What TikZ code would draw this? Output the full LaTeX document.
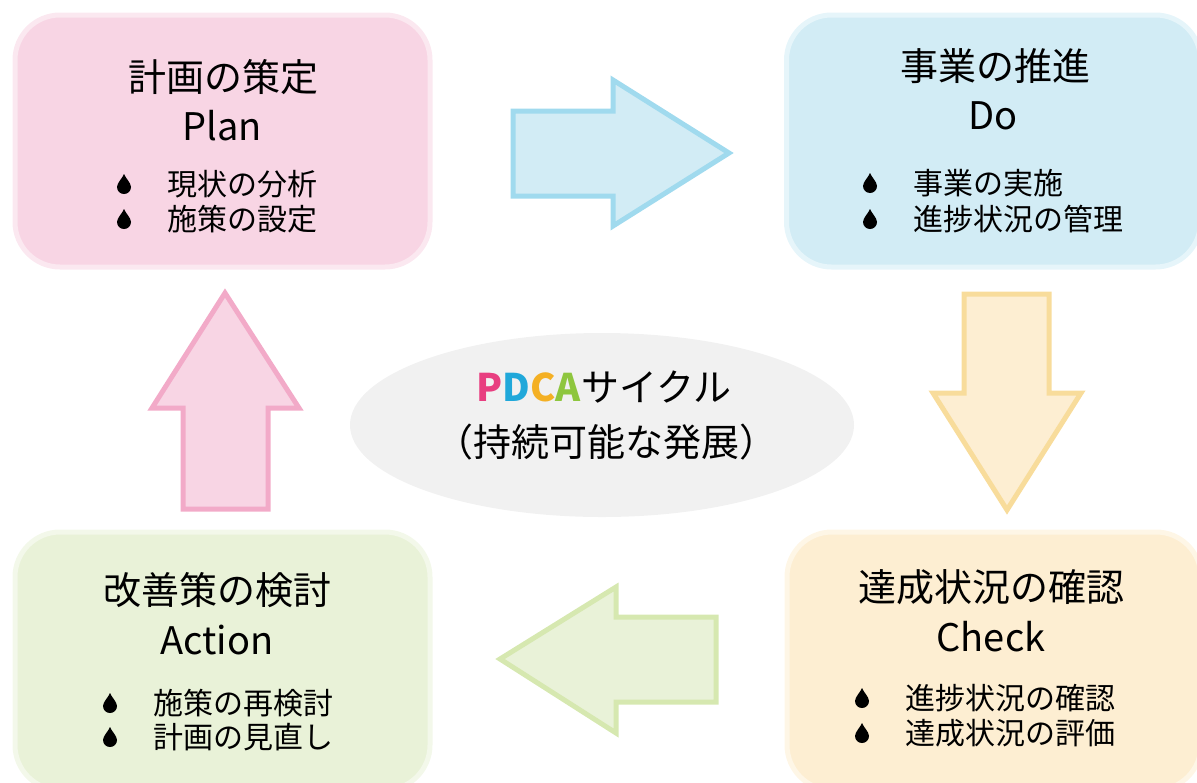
\documentclass[tikz,border=0pt]{standalone}
\usepackage{fontspec}
\setmainfont{Noto Sans CJK JP}
\usetikzlibrary{positioning,shapes.geometric}
\definecolor{PdcaPink}{RGB}{248,213,228}
\definecolor{PdcaPinkLine}{RGB}{242,170,200}
\definecolor{PdcaBlue}{RGB}{210,236,245}
\definecolor{PdcaBlueLine}{RGB}{160,218,238}
\definecolor{PdcaYellow}{RGB}{253,238,210}
\definecolor{PdcaYellowLine}{RGB}{248,220,155}
\definecolor{PdcaGreen}{RGB}{233,242,216}
\definecolor{PdcaGreenLine}{RGB}{214,232,176}
\definecolor{PdcaGray}{RGB}{241,241,241}
\definecolor{PdcaP}{RGB}{232,62,128}
\definecolor{PdcaD}{RGB}{32,168,218}
\definecolor{PdcaC}{RGB}{244,176,36}
\definecolor{PdcaA}{RGB}{142,198,62}
\tikzset{
  pdca/box/.style={
    rounded corners=22.5pt,
    line width=2.5pt,
    inner sep=0pt
  },
  pdca/title/.style={font=\fontsize{19}{24}\selectfont, inner sep=0pt, align=center},
  pdca/item/.style={font=\fontsize{15}{18}\selectfont, inner sep=0pt, anchor=west},
  pdca/arrow/.style={line width=2.5pt, line join=miter},
  pdca/drop/.pic={
    \fill[black] (0,-10) .. controls (1.5,-6) and (7,-1) .. (7,3)
      arc[start angle=0,end angle=180,radius=7]
      .. controls (-7,-1) and (-1.5,-6) .. cycle;
  }
}
\begin{document}
\begin{tikzpicture}[x=0.5pt,y=-0.5pt]
  \useasboundingbox (0,0) rectangle (1197,782);
  \clip (0,0) rectangle (1197,782);

  % four boxes
  \node[pdca/box, fill=PdcaPink, draw=PdcaPink!55, minimum width=207.5pt, minimum height=126pt] (plan) at (222.5,141) {};
  \node[pdca/box, fill=PdcaBlue, draw=PdcaBlue!55, minimum width=207pt, minimum height=126pt] (do) at (993.5,141) {};
  \node[pdca/box, fill=PdcaGreen, draw=PdcaGreen!55, minimum width=207.5pt, minimum height=129pt] (act) at (222.5,661) {};
  \node[pdca/box, fill=PdcaYellow, draw=PdcaYellow!55, minimum width=207pt, minimum height=129pt] (check) at (994,661) {};

  % block arrows
  \draw[pdca/arrow, fill=PdcaBlue, draw=PdcaBlueLine]
    (513,111) -- (613,111) -- (613,80) -- (729,153) -- (613,226) -- (613,196) -- (513,196) -- cycle;
  \draw[pdca/arrow, fill=PdcaYellow, draw=PdcaYellowLine]
    (964,294) -- (1049,294) -- (1049,393) -- (1081,393) -- (1007,510) -- (933,393) -- (964,393) -- cycle;
  \draw[pdca/arrow, fill=PdcaGreen, draw=PdcaGreenLine]
    (716,617) -- (616,617) -- (616,587) -- (500,659) -- (616,733) -- (616,702) -- (716,702) -- cycle;
  \draw[pdca/arrow, fill=PdcaPink, draw=PdcaPinkLine]
    (183,509) -- (183,408) -- (152,408) -- (225,293) -- (299,408) -- (268,408) -- (268,509) -- cycle;

  % centre
  \node[ellipse, fill=PdcaGray, minimum width=252pt, minimum height=92pt, inner sep=0pt] (cycle) at (602,425) {};
  \node[pdca/title] (cycle-a) at (604,387)
    {{\bfseries\textcolor{PdcaP}{P}\textcolor{PdcaD}{D}\textcolor{PdcaC}{C}\textcolor{PdcaA}{A}}サイクル};
  \node[pdca/title] (cycle-b) at (606,442) {（持続可能な発展）};

  % titles
  \node[pdca/title] (plan-jp) at (223,77) {計画の策定};
  \node[pdca/title] (plan-en) at (222,126) {Plan};
  \node[pdca/title] (do-jp) at (995,66) {事業の推進};
  \node[pdca/title] (do-en) at (993,116) {Do};
  \node[pdca/title] (check-jp) at (991,587) {達成状況の確認};
  \node[pdca/title] (check-en) at (991,637) {Check};
  \node[pdca/title] (act-jp) at (217,590) {改善策の検討};
  \node[pdca/title] (act-en) at (217,640) {Action};

  % bullet items
  \foreach \txt/\x/\y [count=\i] in {
    現状の分析/167/184, 施策の設定/167/219,
    事業の実施/913/183, 進捗状況の管理/913/219,
    進捗状況の確認/905/698, 達成状況の評価/905/733,
    施策の再検討/153/703, 計画の見直し/153/737}
  {
    \pic at (\x-43,\y) {pdca/drop};
    \node[pdca/item] (item-\i) at (\x,\y) {\txt};
  }
\end{tikzpicture}
\end{document}
